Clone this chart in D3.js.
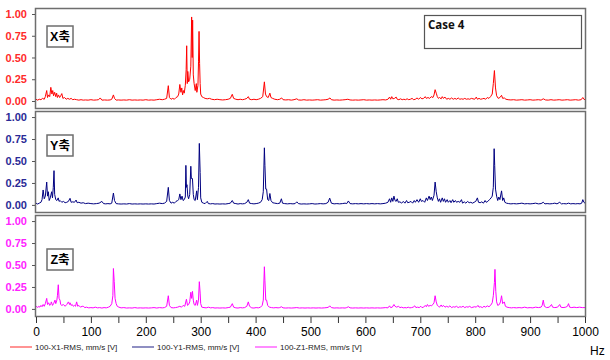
<!DOCTYPE html>
<html><head><meta charset="utf-8">
<script src="https://cdn.jsdelivr.net/npm/d3@7"></script>
<style>
html,body{margin:0;padding:0;background:#fff;}
svg{display:block;font-family:Arial,"Liberation Sans",sans-serif;}
</style></head>
<body>
<svg id="chart" width="610" height="360"></svg>
<script>
// ---------- DATA ----------
const seriesNames = ["100-X1-RMS, mm/s [V]", "100-Y1-RMS, mm/s [V]", "100-Z1-RMS, mm/s [V]"];
const panelLabels = ["X축", "Y축", "Z축"];
const caseLabel = "Case 4";
const xUnit = "Hz";
const yTicks = [0, 0.25, 0.5, 0.75, 1.0];
const xTicksMajor = [0,100,200,300,400,500,600,700,800,900,1000];
const xTicksMinor = [50,150,250,350,450,550,650,750,850,950];

const xSeries = [[0,0.02],[3,0.01],[6,0.02],[9,0.015],[12,0.03],[15,0.02],[17,0.05],[19.5,0.12],[21,0.04],[23,0.07],[25,0.05],[27,0.157],[29,0.08],[30.5,0.12],[32,0.06],[34,0.1],[36,0.05],[37.6,0.09],[39,0.04],[41,0.07],[43,0.04],[45,0.06],[47,0.085],[49,0.03],[52,0.04],[55,0.02],[58,0.03],[61,0.02],[64,0.03],[67,0.015],[70,0.02],[74,0.015],[78,0.01],[82,0.015],[86,0.01],[90,0.012],[95,0.01],[100,0.015],[105,0.01],[110,0.012],[114,0.015],[117,0.035],[120,0.01],[125,0.012],[130,0.01],[135,0.012],[138,0.02],[141,0.07],[143,0.03],[146,0.01],[150,0.012],[155,0.01],[160,0.012],[165,0.01],[170,0.015],[175,0.01],[180,0.012],[185,0.01],[190,0.012],[195,0.01],[200,0.015],[205,0.01],[210,0.012],[215,0.01],[220,0.015],[225,0.02],[230,0.015],[234,0.02],[238,0.03],[241,0.176],[243,0.04],[246,0.02],[249,0.03],[252,0.02],[255,0.04],[258,0.05],[260,0.08],[262,0.19],[264,0.1],[265.5,0.15],[267,0.07],[268.5,0.12],[270,0.09],[272,0.18],[273.5,0.36],[274.5,0.635],[275.5,0.2],[276.5,0.34],[278,0.22],[280,0.25],[282,0.4],[283.5,0.966],[284.5,0.5],[285.3,0.93],[286.5,0.3],[288,0.2],[290,0.12],[292,0.2],[293,0.1],[295,0.18],[296,0.45],[297,0.8],[298,0.43],[299,0.2],[300,0.08],[302,0.05],[305,0.04],[308,0.03],[312,0.025],[316,0.03],[320,0.02],[325,0.015],[330,0.02],[335,0.015],[340,0.012],[345,0.015],[350,0.02],[354,0.03],[357.5,0.077],[360,0.03],[364,0.02],[368,0.015],[372,0.02],[376,0.015],[380,0.02],[384,0.03],[386.7,0.05],[389,0.02],[393,0.015],[397,0.02],[401,0.015],[405,0.02],[409,0.03],[413,0.05],[416,0.22],[418,0.08],[420,0.05],[423,0.04],[426,0.09],[428,0.04],[431,0.03],[435,0.02],[440,0.015],[444,0.02],[447.5,0.035],[450,0.015],[455,0.012],[460,0.015],[465,0.01],[470,0.015],[475,0.025],[478,0.012],[483,0.01],[488,0.015],[493,0.01],[498,0.012],[503,0.01],[508,0.012],[513,0.015],[518,0.01],[523,0.012],[528,0.015],[532,0.02],[535.5,0.035],[538,0.015],[543,0.01],[548,0.012],[553,0.01],[558,0.012],[563,0.015],[568,0.02],[572,0.012],[577,0.01],[582,0.012],[587,0.01],[592,0.012],[597,0.015],[602,0.01],[607,0.012],[612,0.01],[617,0.012],[622,0.01],[627,0.012],[632,0.015],[637,0.012],[641,0.02],[644,0.045],[646,0.02],[648,0.05],[650,0.025],[653,0.03],[656,0.045],[658,0.02],[661,0.015],[664,0.025],[667,0.015],[670,0.02],[673,0.015],[676,0.025],[679,0.015],[682,0.02],[685,0.03],[688,0.015],[691,0.02],[694,0.035],[697,0.02],[700,0.04],[703,0.025],[706,0.03],[709,0.05],[711,0.03],[714,0.04],[717,0.03],[720,0.05],[723,0.04],[725,0.07],[727,0.13],[729,0.09],[731,0.05],[733,0.03],[735,0.04],[738,0.025],[740,0.05],[742,0.03],[745,0.045],[748,0.02],[751,0.03],[754,0.02],[757,0.035],[760,0.02],[763,0.03],[766,0.02],[769,0.035],[772,0.02],[775,0.025],[778,0.02],[781,0.03],[784,0.02],[787,0.025],[790,0.02],[793,0.03],[796,0.025],[799,0.02],[802,0.045],[804,0.02],[807,0.03],[810,0.02],[813,0.025],[816,0.03],[819,0.02],[822,0.04],[825,0.03],[828,0.05],[831,0.08],[833,0.2],[835,0.35],[837,0.15],[839,0.06],[842,0.03],[845,0.04],[848,0.065],[850,0.03],[853,0.035],[856,0.02],[860,0.015],[865,0.012],[870,0.015],[875,0.01],[880,0.012],[885,0.015],[890,0.01],[895,0.012],[900,0.015],[905,0.01],[910,0.012],[915,0.015],[920,0.01],[924,0.025],[928,0.012],[933,0.01],[938,0.015],[943,0.01],[948,0.012],[953,0.015],[958,0.01],[963,0.012],[968,0.015],[973,0.01],[978,0.012],[983,0.015],[988,0.01],[993,0.015],[996,0.04],[998,0.02],[1000,0.015]];

const ySeries = [[0,0.02],[3,0.01],[6,0.02],[9,0.03],[11,0.06],[13,0.17],[15,0.07],[17,0.1],[19.5,0.26],[21,0.1],[22.5,0.15],[24,0.05],[26,0.08],[28.5,0.15],[30,0.08],[31.5,0.2],[32.8,0.39],[34,0.12],[36,0.06],[38,0.05],[40.5,0.08],[42,0.04],[44,0.05],[47,0.03],[50,0.04],[53,0.025],[56,0.03],[59,0.04],[62,0.075],[64,0.03],[67,0.035],[70,0.03],[73,0.055],[75,0.025],[78,0.03],[82,0.02],[86,0.025],[90,0.015],[95,0.02],[100,0.015],[105,0.012],[110,0.015],[115,0.02],[120,0.04],[123,0.015],[127,0.012],[131,0.015],[135,0.012],[138,0.02],[141,0.135],[143,0.05],[146,0.015],[150,0.012],[155,0.01],[160,0.012],[165,0.01],[170,0.015],[175,0.01],[180,0.012],[185,0.01],[190,0.012],[195,0.01],[200,0.012],[205,0.01],[210,0.012],[215,0.01],[220,0.015],[225,0.02],[230,0.015],[234,0.02],[238,0.04],[241,0.2],[243,0.05],[246,0.02],[249,0.03],[252,0.02],[255,0.04],[258,0.05],[260,0.06],[262,0.125],[264,0.06],[266,0.1],[268,0.05],[270,0.06],[272,0.09],[273,0.45],[274,0.2],[275,0.23],[276.5,0.1],[278,0.07],[280,0.12],[282,0.44],[283,0.3],[285,0.3],[286.5,0.12],[288,0.06],[290,0.05],[292.7,0.16],[294,0.06],[296,0.2],[297.5,0.7],[299,0.37],[300,0.08],[302,0.03],[305,0.02],[308,0.015],[312,0.04],[314,0.015],[318,0.012],[322,0.015],[326,0.01],[330,0.012],[335,0.01],[340,0.012],[345,0.01],[350,0.015],[354,0.02],[357.5,0.05],[360,0.02],[364,0.015],[368,0.01],[372,0.015],[376,0.012],[380,0.015],[384,0.03],[386.7,0.06],[389,0.02],[393,0.015],[397,0.012],[401,0.015],[405,0.02],[409,0.03],[412,0.06],[414,0.15],[416,0.65],[417,0.45],[418.5,0.18],[420,0.18],[422,0.06],[424,0.05],[426,0.13],[428,0.05],[431,0.025],[435,0.02],[440,0.015],[444,0.02],[447,0.07],[449,0.02],[453,0.015],[458,0.012],[463,0.015],[468,0.012],[472,0.015],[475,0.035],[478,0.015],[483,0.01],[488,0.012],[493,0.01],[498,0.012],[503,0.015],[508,0.01],[513,0.012],[518,0.015],[523,0.012],[528,0.015],[532,0.03],[535,0.077],[538,0.02],[543,0.012],[548,0.015],[553,0.012],[558,0.015],[563,0.02],[566,0.015],[569,0.045],[572,0.015],[577,0.012],[582,0.015],[587,0.012],[592,0.015],[597,0.012],[602,0.015],[607,0.012],[612,0.015],[617,0.012],[622,0.015],[627,0.012],[632,0.015],[637,0.02],[641,0.03],[644,0.07],[646,0.03],[648,0.08],[650,0.04],[652,0.1],[654,0.05],[656,0.04],[658,0.07],[660,0.03],[663,0.035],[666,0.02],[669,0.04],[672,0.02],[675,0.05],[677,0.025],[680,0.03],[683,0.04],[686,0.02],[689,0.05],[691,0.03],[694,0.06],[697,0.03],[700,0.07],[702,0.04],[705,0.05],[708,0.03],[711,0.08],[713,0.05],[716,0.1],[718,0.06],[720,0.09],[722,0.05],[725,0.11],[727,0.26],[729,0.15],[731,0.08],[733,0.04],[735,0.07],[737,0.03],[740,0.08],[742,0.04],[744,0.07],[746,0.03],[749,0.06],[751,0.03],[754,0.05],[756,0.025],[759,0.06],[761,0.03],[764,0.05],[766,0.03],[769,0.04],[772,0.03],[775,0.06],[777,0.02],[780,0.035],[783,0.02],[786,0.04],[789,0.025],[792,0.03],[795,0.02],[798,0.03],[801,0.04],[804,0.08],[806,0.03],[809,0.025],[812,0.035],[815,0.02],[818,0.05],[820,0.03],[823,0.04],[826,0.06],[829,0.08],[831,0.1],[833,0.2],[834.5,0.64],[835.5,0.45],[837,0.18],[839,0.1],[841,0.05],[843,0.09],[845,0.06],[848,0.16],[850,0.05],[852,0.08],[854,0.03],[857,0.02],[861,0.015],[865,0.012],[870,0.015],[875,0.012],[880,0.015],[885,0.02],[890,0.012],[895,0.015],[900,0.012],[905,0.015],[910,0.02],[915,0.012],[920,0.015],[924,0.03],[927,0.012],[931,0.015],[936,0.012],[941,0.015],[945,0.02],[949,0.012],[954,0.03],[957,0.012],[961,0.015],[966,0.012],[970,0.02],[974,0.012],[978,0.015],[983,0.012],[987,0.015],[991,0.012],[994,0.02],[996,0.06],[998,0.03],[1000,0.02]];

const zSeries = [[0,0.02],[1,0.03],[3,0.015],[5,0.03],[7,0.02],[9,0.04],[11,0.025],[13,0.05],[15,0.03],[17,0.06],[19.5,0.12],[21,0.05],[23,0.07],[25,0.04],[27,0.06],[28,0.08],[30,0.04],[32,0.06],[34.6,0.1],[36,0.06],[38,0.1],[39,0.15],[40.6,0.275],[42,0.12],[43.7,0.1],[45,0.05],[47,0.04],[50,0.05],[53,0.03],[56,0.05],[59,0.08],[61,0.05],[62,0.07],[64,0.04],[66,0.05],[68,0.03],[70,0.04],[72,0.03],[74,0.08],[76,0.03],[78,0.04],[81,0.02],[84,0.03],[86,0.03],[89,0.015],[92,0.02],[96,0.012],[100,0.015],[104,0.012],[108,0.02],[112,0.012],[116,0.015],[120,0.01],[124,0.015],[128,0.012],[132,0.02],[135,0.03],[138,0.06],[140,0.15],[141,0.46],[142.5,0.31],[144,0.12],[146,0.06],[148,0.03],[151,0.02],[155,0.012],[160,0.015],[165,0.01],[170,0.012],[175,0.01],[180,0.015],[185,0.01],[190,0.012],[195,0.01],[200,0.012],[205,0.01],[210,0.012],[215,0.015],[220,0.01],[225,0.015],[230,0.012],[234,0.015],[238,0.03],[241,0.15],[243,0.04],[246,0.015],[250,0.012],[254,0.015],[258,0.02],[262,0.03],[265,0.02],[268,0.04],[271,0.03],[274,0.11],[276,0.04],[278,0.05],[280,0.08],[282,0.19],[283.5,0.12],[285,0.2],[286.5,0.1],[288,0.05],[290,0.04],[292.7,0.1],[294,0.04],[296,0.1],[297.5,0.31],[299,0.18],[300,0.06],[302,0.02],[306,0.015],[310,0.012],[314,0.02],[318,0.012],[322,0.015],[326,0.01],[330,0.012],[335,0.01],[340,0.012],[345,0.01],[350,0.015],[354,0.02],[357.6,0.06],[360,0.02],[364,0.012],[368,0.01],[372,0.015],[376,0.012],[380,0.015],[384,0.03],[386.7,0.08],[389,0.03],[393,0.012],[397,0.01],[401,0.015],[405,0.012],[409,0.02],[412,0.04],[414,0.1],[416,0.48],[417,0.32],[418.5,0.1],[420,0.1],[422,0.04],[425,0.02],[429,0.015],[433,0.012],[437,0.015],[441,0.012],[444,0.015],[447,0.025],[450,0.012],[455,0.01],[460,0.012],[465,0.01],[470,0.012],[475,0.015],[480,0.01],[485,0.012],[490,0.01],[495,0.012],[500,0.01],[505,0.012],[510,0.01],[515,0.012],[520,0.01],[525,0.012],[530,0.015],[533,0.02],[535,0.035],[538,0.015],[543,0.01],[548,0.012],[553,0.01],[558,0.012],[563,0.01],[566,0.015],[569,0.025],[572,0.012],[577,0.01],[582,0.012],[587,0.01],[592,0.012],[597,0.01],[602,0.012],[607,0.01],[612,0.012],[617,0.01],[622,0.012],[627,0.01],[632,0.012],[637,0.015],[641,0.012],[644,0.035],[646,0.015],[649,0.02],[652,0.05],[654,0.03],[657,0.02],[660,0.03],[663,0.015],[666,0.02],[669,0.012],[672,0.015],[675,0.012],[678,0.02],[681,0.012],[684,0.015],[687,0.02],[690,0.035],[692,0.015],[695,0.02],[698,0.015],[701,0.03],[703,0.015],[706,0.02],[709,0.04],[711,0.025],[713,0.05],[715,0.03],[718,0.04],[720,0.035],[723,0.05],[725,0.07],[727,0.15],[729,0.08],[731,0.04],[733,0.03],[735,0.02],[738,0.045],[740,0.025],[742,0.04],[745,0.02],[748,0.03],[751,0.02],[754,0.035],[757,0.015],[760,0.025],[763,0.02],[766,0.03],[769,0.015],[772,0.025],[775,0.02],[778,0.03],[781,0.015],[784,0.025],[787,0.02],[790,0.03],[793,0.015],[796,0.02],[799,0.025],[802,0.02],[805,0.04],[807,0.02],[810,0.025],[813,0.015],[816,0.03],[819,0.02],[822,0.035],[825,0.025],[828,0.04],[831,0.07],[833,0.15],[835,0.3],[836,0.45],[837.5,0.2],[839,0.08],[841,0.04],[844,0.05],[846,0.08],[848,0.15],[850,0.06],[853,0.08],[855,0.03],[858,0.02],[862,0.015],[866,0.012],[870,0.015],[875,0.012],[880,0.015],[885,0.012],[890,0.02],[895,0.012],[900,0.015],[905,0.012],[910,0.02],[915,0.015],[920,0.02],[922,0.04],[924,0.1],[926,0.03],[930,0.015],[935,0.02],[939,0.05],[941,0.02],[945,0.015],[950,0.02],[954,0.05],[956,0.02],[960,0.015],[965,0.02],[968,0.03],[970,0.06],[972,0.02],[976,0.015],[980,0.02],[985,0.015],[990,0.02],[995,0.015],[1000,0.015]];

const allSeries = [xSeries, ySeries, zSeries];

// ---------- STYLE / LAYOUT ----------
const lineColors = ["#ff0000", "#000080", "#ff00ff"];
const tickColors = ["#ff2a2a", "#2a2a96", "#ff22ff"];
const legendColors = ["#ff7070", "#6a6aae", "#ff66ff"];
const frameColor = "#6e6e6e";
const plotL = 36, plotR = 585;
const panels = [{top: 8, bottom: 109}, {top: 111, bottom: 213}, {top: 215, bottom: 317}];

const svg = d3.select("#chart");
const x = d3.scaleLinear().domain([0, 1000]).range([plotL, plotR]);

panels.forEach((p, i) => {
  const y = d3.scaleLinear().domain([-0.092, 1.069]).range([p.bottom, p.top]);
  const g = svg.append("g");
  // clip
  const cid = "clip" + i;
  svg.append("clipPath").attr("id", cid).append("rect")
    .attr("x", plotL).attr("y", p.top).attr("width", plotR - plotL).attr("height", p.bottom - p.top);

  // series line
  const line = d3.line().x(d => x(d[0])).y(d => y(d[1]));
  g.append("path").datum(allSeries[i])
    .attr("d", line).attr("fill", "none")
    .attr("stroke", lineColors[i]).attr("stroke-width", 1)
    .attr("stroke-linejoin", "round")
    .attr("clip-path", `url(#${cid})`);

  // frame
  g.append("rect").attr("x", plotL - 0.5).attr("y", p.top + 0.5)
    .attr("width", plotR - plotL + 1).attr("height", p.bottom - p.top - 1)
    .attr("fill", "none").attr("stroke", frameColor).attr("stroke-width", 1.5);

  // y axis
  const yAxis = d3.axisLeft(y).tickValues(yTicks).tickFormat(d3.format(".2f")).tickSize(3).tickPadding(5);
  const ya = g.append("g").attr("transform", `translate(${plotL - 1},0)`).call(yAxis);
  ya.select(".domain").remove();
  ya.selectAll("line").attr("stroke", "#555");
  ya.selectAll("text").attr("fill", tickColors[i]).attr("font-size", 11)
    .attr("font-weight", "bold").attr("font-family", "Arial, 'Liberation Sans', sans-serif");

  // panel label box
  const bx = 47, by = p.top + [18, 24, 34][i];
  g.append("rect").attr("x", bx).attr("y", by).attr("width", 26).attr("height", 21)
    .attr("fill", "#fff").attr("stroke", frameColor).attr("stroke-width", 1.5);
  g.append("text").attr("x", bx + 13).attr("y", by + 15).attr("text-anchor", "middle")
    .attr("font-size", 12.5).attr("font-weight", "bold").attr("fill", "#000")
    .attr("font-family", "Arial, 'Noto Sans CJK KR', sans-serif")
    .text(panelLabels[i]);
});

// case box
svg.append("rect").attr("x", 424.5).attr("y", 15.5).attr("width", 157).attr("height", 33)
  .attr("fill", "#fff").attr("stroke", "#555").attr("stroke-width", 1.2);
svg.append("text").attr("x", 428).attr("y", 29).attr("font-size", 11.5).attr("font-weight", "bold")
  .attr("font-family", "'Open Sans', 'Noto Sans', sans-serif").attr("fill", "#111").text(caseLabel);

// x axis
const xb = panels[2].bottom;
const xa = svg.append("g").attr("transform", `translate(0,${xb})`)
  .call(d3.axisBottom(x).tickValues(xTicksMajor).tickSize(6).tickPadding(4).tickFormat(d3.format("d")));
xa.select(".domain").remove();
xa.selectAll("line").attr("stroke", "#333");
xa.selectAll("text").attr("font-size", 12).attr("fill", "#000")
  .attr("font-family", "Arial, 'Liberation Sans', sans-serif");
const xm = svg.append("g").attr("transform", `translate(0,${xb})`)
  .call(d3.axisBottom(x).tickValues(xTicksMinor).tickSize(6).tickFormat(""));
xm.select(".domain").remove();
xm.selectAll("line").attr("stroke", "#333");

svg.append("text").attr("x", 590).attr("y", 355).attr("font-size", 12)
  .attr("font-family", "Arial, 'Liberation Sans', sans-serif").text(xUnit);

// legend
const legX = [10, 132, 255];
seriesNames.forEach((n, i) => {
  svg.append("line").attr("x1", legX[i]).attr("x2", legX[i] + 22).attr("y1", 347).attr("y2", 347)
    .attr("stroke", legendColors[i]).attr("stroke-width", 1.5);
  svg.append("text").attr("x", legX[i] + 25).attr("y", 350).attr("font-size", 8)
    .attr("font-family", "Arial, 'Liberation Sans', sans-serif").attr("fill", "#222").text(n);
});
</script>
</body></html>
